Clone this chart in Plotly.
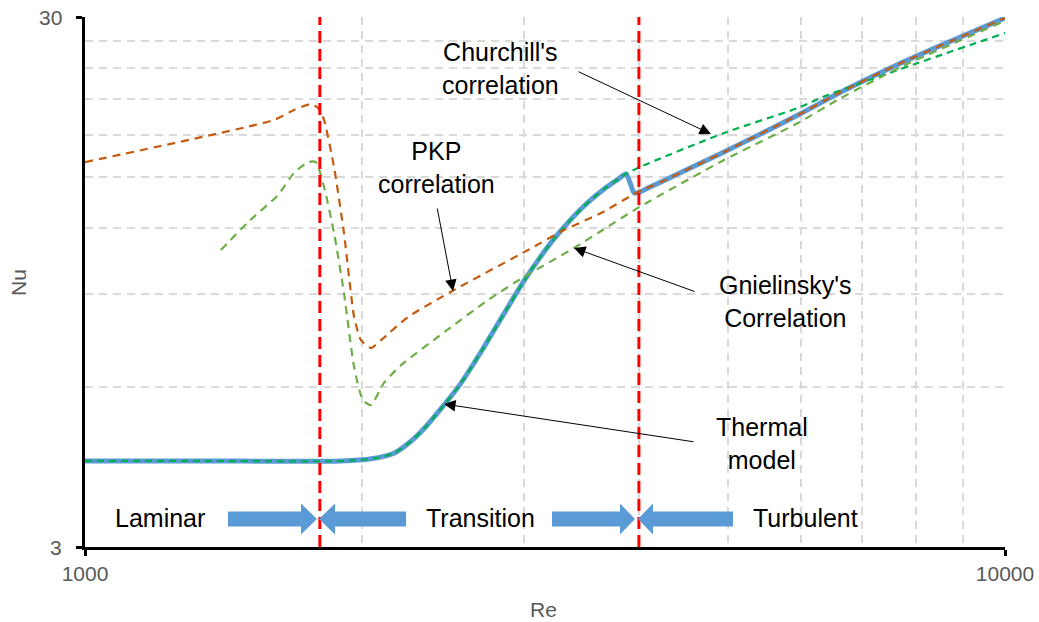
import plotly.graph_objects as go

# ---------------- data ----------------
re_thermal = [1000, 1337, 1898, 2046, 2167, 2261, 2349, 2456, 2550, 2694, 2797, 2891, 3000,
              3114, 3234, 3460, 3666, 3800, 3873, 3915, 3955, 4020, 4092, 4227, 4950, 5957,
              6633, 7709, 10000]
nu_thermal = [4.36, 4.36, 4.36, 4.40, 4.51, 4.75, 5.07, 5.56, 6.04, 7.00, 7.80, 8.58, 9.53,
              10.48, 11.44, 13.03, 14.21, 14.84, 15.17, 14.55, 13.97, 14.05, 14.27, 14.65, 16.69,
              19.60, 21.66, 24.57, 29.87]

re_churchill = [1000, 1337, 1898, 2046, 2167, 2261, 2349, 2456, 2550, 2694, 2797, 2891, 3000,
                3114, 3234, 3460, 3666, 3800, 3873, 3990, 4950, 5957, 6421, 10000]
nu_churchill = [4.36, 4.36, 4.36, 4.40, 4.51, 4.75, 5.07, 5.56, 6.04, 7.00, 7.80, 8.58, 9.53,
                10.48, 11.44, 13.03, 14.21, 14.84, 15.17, 15.57, 18.12, 20.21, 21.38, 27.98]

re_pkp = [1000, 1605, 1687, 1761, 1792, 1819, 1865, 1912, 1961, 1995, 2046, 2098, 2244,
          2518, 3030, 3317, 3639, 3990, 4227, 4950, 5957, 6633, 7709, 10000]
nu_pkp = [15.97, 19.18, 20.03, 20.56, 20.21, 19.18, 15.64, 11.74, 8.15, 7.37, 7.12, 7.37,
          8.15, 9.16, 10.90, 11.89, 12.80, 14.03, 14.65, 16.69, 19.60, 21.66, 24.57, 29.87]

re_gnielinsky = [1405, 1504, 1621, 1687, 1748, 1782, 1819, 1865, 1912, 1961, 2005, 2046,
                 2113, 2206, 2468, 2742, 3000, 3401, 3639, 3990, 4950, 5957, 6633, 7709, 10000]
nu_gnielinsky = [10.90, 12.31, 13.84, 15.23, 15.97, 15.97, 14.33, 11.74, 9.05, 6.56, 5.68,
                 5.56, 6.12, 6.61, 7.67, 8.77, 9.70, 11.0, 11.84, 13.09, 16.12, 18.93, 21.1,
                 24.15, 29.5]

re_transitions = [1800, 4000]
re_range = [1000, 10000]
nu_range = [3, 30]

x_tick_labels = ["1000", "10000"]
y_tick_labels = ["3", "30"]
x_minor = [2000, 3000, 4000, 5000, 6000, 7000, 8000, 9000]
y_minor = [6, 9, 12, 15, 18, 21, 24, 27]

# ---------------- layout helpers ----------------
W, H = 1039, 622
L, R, T, B = 85, 1005, 17, 547
PW, PH = R - L, B - T


def px(x):
    return (x - L) / PW


def py(y):
    return (B - y) / PH


FONT = "Liberation Sans, Arial, sans-serif"
BLUE = "#5b9bd5"

fig = go.Figure()

fig.add_trace(go.Scatter(x=re_thermal, y=nu_thermal, mode="lines", name="Thermal model",
                         line=dict(color=BLUE, width=5, shape="spline", smoothing=0.8)))
fig.add_trace(go.Scatter(x=re_churchill, y=nu_churchill, mode="lines", name="Churchill",
                         line=dict(color="#00b050", width=2.2, dash="7px,5px",
                                   shape="spline", smoothing=0.8)))
fig.add_trace(go.Scatter(x=re_pkp, y=nu_pkp, mode="lines", name="PKP",
                         line=dict(color="#c55a11", width=2.2, dash="8px,6px",
                                   shape="spline", smoothing=0.5)))
fig.add_trace(go.Scatter(x=re_gnielinsky, y=nu_gnielinsky, mode="lines", name="Gnielinsky",
                         line=dict(color="#70ad47", width=2.2, dash="8px,6px",
                                   shape="spline", smoothing=0.6)))
for r in re_transitions:
    fig.add_trace(go.Scatter(x=[r, r], y=nu_range, mode="lines", showlegend=False,
                             line=dict(color="#ff0000", width=3, dash="12px,6px")))

# ---------------- text annotations ----------------
texts = [
    ("Churchill's<br>correlation", 500, 69),
    ("PKP<br>correlation", 436, 167),
    ("Gnielinsky's<br>Correlation", 785, 301),
    ("Thermal<br>model", 762, 443),
    ("Laminar", 160, 518),
    ("Transition", 480, 518),
    ("Turbulent", 805, 518),
]
annotations = []
for t, x, y in texts:
    annotations.append(dict(text=t, x=px(x), y=py(y), xref="paper", yref="paper",
                            xanchor="center", yanchor="middle", showarrow=False,
                            font=dict(family=FONT, size=25, color="#000000")))

arrows = [  # (start px, start py, tip px, tip py)
    (577, 71, 711, 134),
    (437, 207, 453, 291),
    (696, 292, 574, 248),
    (695, 442, 444, 404),
]
for sx, sy, tx, ty in arrows:
    annotations.append(dict(text="", x=px(tx), y=py(ty), xref="paper", yref="paper",
                            ax=sx - tx, ay=sy - ty, showarrow=True, arrowhead=2,
                            arrowsize=2.3, arrowwidth=1.0, arrowcolor="#000000",
                            standoff=0))

# y tick labels (bottom and top of the axis), placed left of the tick marks
for pos, lab in zip([0, 1], y_tick_labels):
    annotations.append(dict(text=lab, x=px(64), y=pos, xref="paper", yref="paper",
                            xanchor="right", yanchor="middle", showarrow=False,
                            font=dict(family=FONT, size=21, color="#595959")))

# axis titles
annotations.append(dict(text="Nu", x=px(18), y=py(283), xref="paper", yref="paper",
                        textangle=-90, showarrow=False, xanchor="center", yanchor="middle",
                        font=dict(family=FONT, size=21, color="#595959")))
annotations.append(dict(text="Re", x=px(543), y=py(609), xref="paper", yref="paper",
                        showarrow=False, xanchor="center", yanchor="middle",
                        font=dict(family=FONT, size=21, color="#595959")))


# ---------------- block arrows ----------------
def block_arrow(x_start, x_base, x_tip, yc=519, shaft=7.5, head=15.5):
    pts = [(x_start, yc - shaft), (x_base, yc - shaft), (x_base, yc - head), (x_tip, yc),
           (x_base, yc + head), (x_base, yc + shaft), (x_start, yc + shaft)]
    path = "M " + " L ".join(f"{px(a):.5f},{py(b):.5f}" for a, b in pts) + " Z"
    return dict(type="path", path=path, xref="paper", yref="paper",
                fillcolor=BLUE, line=dict(width=0), layer="above")


shapes = [
    block_arrow(228, 301, 317),
    block_arrow(406, 335, 319),
    block_arrow(552, 620, 635),
    block_arrow(733, 653, 638),
]

fig.update_layout(
    width=W, height=H,
    margin=dict(l=L, r=W - R, t=T, b=H - B, autoexpand=False),
    paper_bgcolor="white", plot_bgcolor="white",
    showlegend=False,
    annotations=annotations,
    shapes=shapes,
    font=dict(family=FONT, color="#595959"),
    xaxis=dict(type="log", range=[3, 4], tickvals=re_range, ticktext=x_tick_labels,
               automargin=False,
               ticks="outside", ticklen=6, tickwidth=3, tickcolor="#000000",
               tickfont=dict(family=FONT, size=21, color="#595959"),
               showline=True, linecolor="#000000", linewidth=3,
               showgrid=True, gridcolor="#d9d9d9", gridwidth=1.5, zeroline=False,
               minor=dict(tickvals=x_minor, showgrid=True, gridcolor="#d9d9d9",
                          gridwidth=1.5, griddash="8px,6px", ticks="")),
    yaxis=dict(type="log", range=[0.47712125, 1.47712126], tickvals=nu_range,
               ticktext=y_tick_labels, automargin=False, showticklabels=False,
               ticks="outside", ticklen=6, tickwidth=3, tickcolor="#000000",
               showline=True, linecolor="#000000", linewidth=3,
               showgrid=True, gridcolor="#d9d9d9", gridwidth=1.5, zeroline=False,
               minor=dict(tickvals=y_minor, showgrid=True, gridcolor="#d9d9d9",
                          gridwidth=1.5, griddash="8px,6px", ticks="")),
)

fig.write_html("out.html")
